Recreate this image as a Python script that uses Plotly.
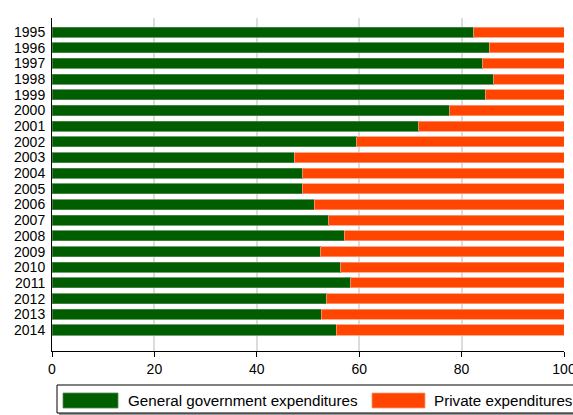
import plotly.graph_objects as go

years = [str(y) for y in range(1995, 2015)]
government = [82.4, 85.4, 84.1, 86.3, 84.6, 77.7, 71.6, 59.5, 47.3, 49.0,
              48.9, 51.2, 54.1, 57.1, 52.5, 56.4, 58.3, 53.7, 52.6, 55.5]
private = [round(100 - g, 1) for g in government]
series_names = ["General government expenditures", "Private expenditures"]
x_ticks = [0, 20, 40, 60, 80, 100]

GREEN = "#005E00"
ORANGE = "#FF4500"

W, H = 573, 415
L, R, T, B = 52, 9, 18, 64
pw, ph = W - L - R, H - T - B

def px(x):
    return (x - L) / pw

def py(y):
    return (H - B - y) / ph

fig = go.Figure()
fig.add_trace(go.Bar(y=years, x=government, orientation="h", name=series_names[0],
                     marker=dict(color=GREEN, line=dict(color="#4f8a4f", width=0.8)),
                     showlegend=False))
fig.add_trace(go.Bar(y=years, x=private, orientation="h", name=series_names[1],
                     marker=dict(color=ORANGE, line=dict(color="#ff9a75", width=0.8)),
                     showlegend=False))

font = dict(family="Liberation Sans, Arial, sans-serif", size=14, color="#000000")
legend_font = dict(family="Liberation Sans, Arial, sans-serif", size=15.2, color="#000000")

shapes = []
# legend shadow and box
shapes.append(dict(type="rect", xref="paper", yref="paper",
                   x0=px(59), x1=px(577), y0=py(415), y1=py(387),
                   line=dict(width=0), fillcolor="#9a9a9a", layer="above"))
shapes.append(dict(type="rect", xref="paper", yref="paper",
                   x0=px(57), x1=px(576), y0=py(413), y1=py(385),
                   line=dict(color="#000000", width=1), fillcolor="#ffffff", layer="above"))
# swatches
shapes.append(dict(type="rect", xref="paper", yref="paper",
                   x0=px(63), x1=px(118), y0=py(408), y1=py(393),
                   line=dict(color="#4f8a4f", width=0.8), fillcolor=GREEN, layer="above"))
shapes.append(dict(type="rect", xref="paper", yref="paper",
                   x0=px(372), x1=px(425), y0=py(408), y1=py(393),
                   line=dict(color="#ff9a75", width=0.8), fillcolor=ORANGE, layer="above"))

annotations = [
    dict(text=series_names[0], x=px(126), y=py(400.5), xref="paper", yref="paper",
         xanchor="left", yanchor="middle", showarrow=False, font=legend_font),
    dict(text=series_names[1], x=px(432), y=py(400.5), xref="paper", yref="paper",
         xanchor="left", yanchor="middle", showarrow=False, font=legend_font),
]

fig.update_layout(
    barmode="stack",
    bargap=0.36,
    width=W, height=H,
    margin=dict(l=L, r=R, t=T, b=B, pad=0, autoexpand=False),
    plot_bgcolor="#ffffff",
    paper_bgcolor="#ffffff",
    font=font,
    shapes=shapes,
    annotations=annotations,
    xaxis=dict(range=[0, 100], tickvals=x_ticks, ticktext=[str(v) for v in x_ticks],
               showgrid=True, gridcolor="#dcdcdc", gridwidth=1.5,
               showline=True, linecolor="#000000", linewidth=1,
               ticks="outside", ticklen=5, tickcolor="#000000",
               ticklabeloverflow="allow", automargin=False,
               zeroline=False, tickfont=font, fixedrange=True),
    yaxis=dict(type="category", categoryorder="array", categoryarray=years,
               tickmode="array", tickvals=years, ticktext=years,
               range=[20.34, -0.9], showgrid=False, automargin=False,
               showline=True, linecolor="#000000", linewidth=1,
               ticks="", ticklabelstandoff=3,
               zeroline=False, tickfont=font, fixedrange=True),
)

fig.write_html("out.html", config={"displayModeBar": False},
               post_script="document.body.style.margin='0';document.body.style.overflow='hidden';")
